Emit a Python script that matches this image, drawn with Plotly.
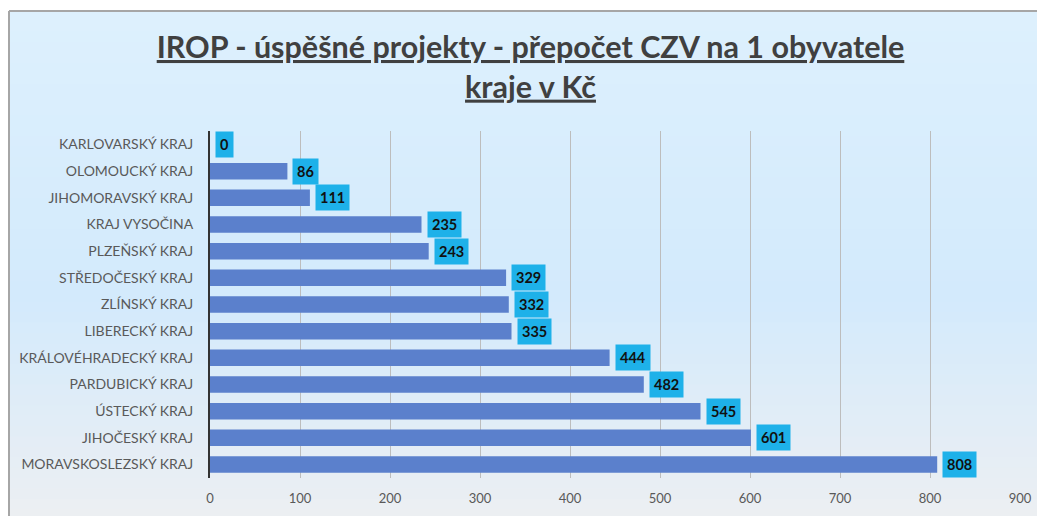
import plotly.graph_objects as go

categories = ["KARLOVARSKÝ KRAJ", "OLOMOUCKÝ KRAJ", "JIHOMORAVSKÝ KRAJ", "KRAJ VYSOČINA",
              "PLZEŇSKÝ KRAJ", "STŘEDOČESKÝ KRAJ", "ZLÍNSKÝ KRAJ", "LIBERECKÝ KRAJ",
              "KRÁLOVÉHRADECKÝ KRAJ", "PARDUBICKÝ KRAJ", "ÚSTECKÝ KRAJ", "JIHOČESKÝ KRAJ",
              "MORAVSKOSLEZSKÝ KRAJ"]
values = [0, 86, 111, 235, 243, 329, 332, 335, 444, 482, 545, 601, 808]
x_ticks = [0, 100, 200, 300, 400, 500, 600, 700, 800, 900]
title_text = "IROP - úspěšné projekty - přepočet CZV na 1 obyvatele<br>kraje v Kč"

W, H = 1045, 516
FONT = "Lato"
# page offset (body margin) is 8px; plot area wanted at window x 210..1020, y 131..478
OFF = 8
PL, PR, PT, PB = 210, 1020, 131, 478
ML, MR, MT, MB = PL - OFF, W + OFF - PR, PT - OFF, H + OFF - PB

def px(x):
    return (x - PL) / (PR - PL)

def py(y):
    return (PB - y) / (PB - PT)

fig = go.Figure()
fig.add_trace(go.Bar(
    x=values, y=categories, orientation="h",
    marker=dict(color="#5b80cc", line=dict(width=0)),
    hoverinfo="x+y",
))

# background gradient (styling only)
stops = [(0.0, (221, 240, 253)), (0.55, (211, 234, 252)), (1.0, (237, 239, 242))]
def col(t):
    for (t0, c0), (t1, c1) in zip(stops[:-1], stops[1:]):
        if t0 <= t <= t1:
            f = (t - t0) / (t1 - t0)
            return "rgb(%d,%d,%d)" % tuple(round(a + (b - a) * f) for a, b in zip(c0, c1))
    return "rgb(%d,%d,%d)" % stops[-1][1]

shapes = []
n = 50
ytop, ybot = 11, 530
for i in range(n):
    y1 = ytop + i * (ybot - ytop) / n
    y2 = ytop + (i + 1) * (ybot - ytop) / n + 1
    shapes.append(dict(type="rect", xref="paper", yref="paper", x0=px(9), x1=px(1060),
                       y0=py(y2), y1=py(y1), fillcolor=col(i / (n - 1)),
                       line=dict(width=0), layer="below"))
shapes.append(dict(type="line", xref="paper", yref="paper", x0=px(9), x1=px(1060),
                   y0=py(ytop), y1=py(ytop), line=dict(color="#a6a6a6", width=2), layer="below"))
shapes.append(dict(type="line", xref="paper", yref="paper", x0=px(9), x1=px(9),
                   y0=py(ybot), y1=py(ytop), line=dict(color="#a6a6a6", width=2), layer="below"))

annotations = []
for c, v in zip(categories, values):
    annotations.append(dict(
        x=v, y=c, xref="x", yref="y", text="<b>%d</b>" % v, showarrow=False,
        xanchor="left", xshift=5, bgcolor="#1eb1e9", borderpad=4,
        font=dict(family=FONT, size=14.5, color="#111111"),
    ))

fig.update_layout(
    width=W, height=H,
    margin=dict(l=ML, r=MR, t=MT, b=MB),
    paper_bgcolor="white", plot_bgcolor="rgba(0,0,0,0)",
    title=dict(text="<u>" + title_text + "</u>", x=0.5, xanchor="center", xref="container",
               y=1 - 50 / H, yanchor="top", yref="container",
               font=dict(family=FONT, size=30.5, color="#404040", weight="bold")),
    showlegend=False,
    bargap=0.38,
    shapes=shapes,
    annotations=annotations,
    xaxis=dict(range=[0, 900], tickvals=x_ticks, showgrid=True, gridcolor="#bdbdbd",
               gridwidth=1, zeroline=False, showline=False,
               tickfont=dict(family=FONT, size=13, color="#595959"), ticks="",
               ticklabelstandoff=11),
    yaxis=dict(categoryorder="array", categoryarray=categories, autorange="reversed",
               showline=True, linecolor="#333333", linewidth=2, showgrid=False,
               tickfont=dict(family=FONT, size=14, color="#595959"), ticks="",
               ticklabelstandoff=12),
)

fig.write_html("out.html")
